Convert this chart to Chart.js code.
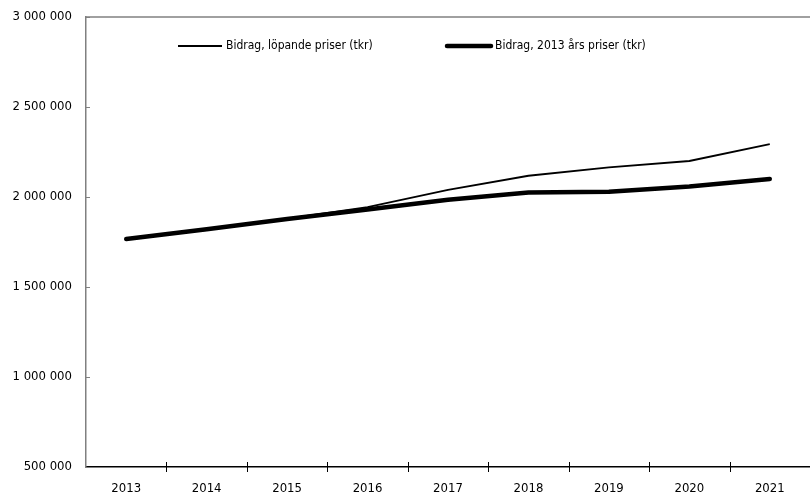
<!DOCTYPE html>
<html>
<head>
<meta charset="utf-8">
<script src="https://cdn.jsdelivr.net/npm/chart.js@4/dist/chart.umd.min.js"></script>
<style>
html,body{margin:0;padding:0;background:#fff;}
#wrap{width:810px;height:496px;}
</style>
</head>
<body>
<div id="wrap"><canvas id="c" width="810" height="496"></canvas></div>
<script>
const years = ['2013','2014','2015','2016','2017','2018','2019','2020','2021'];
const lopandePriser = [1767000, 1821000, 1880000, 1944000, 2040000, 2118000, 2165000, 2200000, 2294000];
const fastaPriser2013 = [1767000, 1821000, 1878000, 1931000, 1985000, 2025000, 2029000, 2058000, 2100000];
const seriesLabels = ['Bidrag, löpande priser (tkr)', 'Bidrag, 2013 års priser (tkr)'];
const yTicks = { min: 500000, max: 3000000, step: 500000 };

const FONT = "'Liberation Sans Narrow', 'Arial Narrow', 'DejaVu Sans Condensed', sans-serif";

function fmt(v){ return String(v).replace(/\B(?=(\d{3})+(?!\d))/g, ' '); }

const decor = {
  id: 'decor',
  afterDraw(chart){
    const ctx = chart.ctx, a = chart.chartArea;
    const xs = chart.scales.x, ys = chart.scales.y;
    ctx.save();
    // top border
    ctx.strokeStyle = '#808080'; ctx.lineWidth = 1.5;
    ctx.beginPath(); ctx.moveTo(a.left, a.top); ctx.lineTo(a.right, a.top); ctx.stroke();
    // y inner ticks
    ctx.lineWidth = 1;
    ys.ticks.forEach(t => {
      const y = Math.round(ys.getPixelForValue(t.value)) + 0.5;
      ctx.beginPath(); ctx.moveTo(a.left, y); ctx.lineTo(a.left + 4, y); ctx.stroke();
    });
    // x ticks crossing axis between categories
    ctx.strokeStyle = '#000'; ctx.lineWidth = 1;
    for (let i = 1; i < years.length; i++) {
      const x = Math.round((xs.getPixelForValue(i-1) + xs.getPixelForValue(i)) / 2) + 0.5;
      ctx.beginPath(); ctx.moveTo(x, a.bottom - 5); ctx.lineTo(x, a.bottom + 5); ctx.stroke();
    }
    // legend
    const ly = a.top + 29;
    const starts = [a.left + 92, a.left + 361];
    ctx.font = '12px ' + FONT;
    ctx.fillStyle = '#000';
    ctx.textBaseline = 'middle';
    chart.data.datasets.forEach((ds, i) => {
      const x0 = starts[i];
      ctx.lineWidth = ds.borderWidth;
      ctx.lineCap = i === 1 ? 'round' : 'butt';
      ctx.strokeStyle = ds.borderColor;
      ctx.beginPath(); ctx.moveTo(x0, ly); ctx.lineTo(x0 + 44, ly); ctx.stroke();
      ctx.fillText(ds.label, x0 + 48, ly);
    });
    ctx.restore();
  }
};

new Chart(document.getElementById('c'), {
  type: 'line',
  data: {
    labels: years,
    datasets: [
      { label: seriesLabels[0], data: lopandePriser, borderColor: '#000', borderWidth: 1.8, pointRadius: 0, tension: 0, borderJoinStyle: 'round' },
      { label: seriesLabels[1], data: fastaPriser2013, borderColor: '#000', borderWidth: 4.5, pointRadius: 0, tension: 0, borderCapStyle: 'round', borderJoinStyle: 'round' }
    ]
  },
  options: {
    responsive: false,
    animation: false,
    layout: { padding: { top: -4, right: 0, left: 0, bottom: 0 } },
    plugins: { legend: { display: false }, tooltip: { enabled: false } },
    scales: {
      x: {
        offset: true,
        grid: { display: false, drawTicks: false },
        border: { display: true, color: '#000', width: 1.5 },
        ticks: { color: '#000', font: { family: FONT, size: 13 }, padding: 14, maxRotation: 0 },
        afterFit: s => { s.height = 29; }
      },
      y: {
        min: yTicks.min, max: yTicks.max,
        grid: { display: false, drawTicks: false },
        border: { display: true, color: '#808080', width: 1.5 },
        ticks: { stepSize: yTicks.step, color: '#000', font: { family: FONT, size: 13 }, padding: 14, callback: v => fmt(v) },
        afterFit: s => { s.width = 86; s.paddingTop = 17; }
      }
    }
  },
  plugins: [decor]
});
</script>
</body>
</html>
